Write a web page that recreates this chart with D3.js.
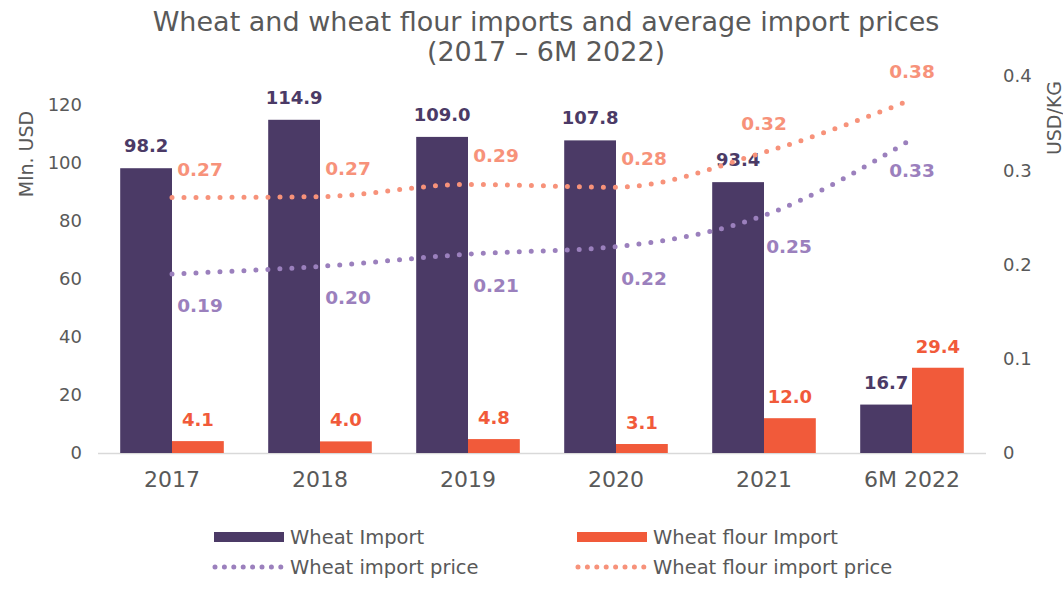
<!DOCTYPE html>
<html>
<head>
<meta charset="utf-8">
<script src="https://cdn.jsdelivr.net/npm/d3@7"></script>
<style>
  body { margin: 0; background: #fff; }
  text { font-family: "DejaVu Sans", sans-serif; }
</style>
</head>
<body>
<svg id="chart" width="1063" height="593"></svg>
<script>
var years = ["2017", "2018", "2019", "2020", "2021", "6M 2022"];
var wheatImport = [98.2, 114.9, 109.0, 107.8, 93.4, 16.7];
var flourImport = [4.1, 4.0, 4.8, 3.1, 12.0, 29.4];
var wheatPrice = [0.19, 0.198, 0.211, 0.219, 0.252, 0.333];
var flourPrice = [0.271, 0.272, 0.285, 0.282, 0.319, 0.375];
var wheatPriceLabels = ["0.19", "0.20", "0.21", "0.22", "0.25", "0.33"];
var flourPriceLabels = ["0.27", "0.27", "0.29", "0.28", "0.32", "0.38"];
var leftTicks = [0, 20, 40, 60, 80, 100, 120];
var rightTicks = [0, 0.1, 0.2, 0.3, 0.4];

var cWheat = "#4b3a66", cFlour = "#f15a3a", cWheatP = "#9b80bd", cFlourP = "#f7927a";
var grey = "#595959";

var svg = d3.select("#chart");

var x = d3.scaleBand().domain(years).range([98, 986]).paddingInner(0.3).paddingOuter(0.15);
var sub = d3.scaleBand().domain(["w", "f"]).range([0, x.bandwidth()]);
var y = d3.scaleLinear().domain([0, 130]).range([453, 76]);
var y2 = d3.scaleLinear().domain([0, 0.4]).range([453, 76]);
var cx = function(i) { return x(years[i]) + x.bandwidth() / 2; };

// title
svg.append("text").attr("x", 546).attr("y", 31).attr("text-anchor", "middle")
    .style("font-size", "27px").attr("fill", grey)
    .text("Wheat and wheat flour imports and average import prices");
svg.append("text").attr("x", 546).attr("y", 61).attr("text-anchor", "middle")
    .style("font-size", "27px").attr("fill", grey)
    .text("(2017 – 6M 2022)");

// axes
var yAxis = svg.append("g").attr("transform", "translate(82,0)")
    .call(d3.axisLeft(y).tickValues(leftTicks).tickSize(0).tickPadding(0));
var yAxis2 = svg.append("g").attr("transform", "translate(1003,0)")
    .call(d3.axisRight(y2).tickValues(rightTicks).tickSize(0).tickPadding(0)
        .tickFormat(function(d) { return d === 0 ? "0" : d3.format(".1f")(d); }));
var xAxis = svg.append("g").attr("transform", "translate(0,453)")
    .call(d3.axisBottom(x).tickSize(0));
[yAxis, yAxis2, xAxis].forEach(function(a) {
    a.select(".domain").remove();
    a.selectAll("text").style("font-size", "18px").attr("fill", grey)
        .style("font-family", "DejaVu Sans, sans-serif");
});
xAxis.selectAll("text").style("font-size", "22px").attr("y", 34).attr("dy", 0);

svg.append("line").attr("x1", 98).attr("x2", 986).attr("y1", 453.5).attr("y2", 453.5)
    .attr("stroke", "#d9d9d9").attr("stroke-width", 1.5);

svg.append("text").attr("transform", "translate(33,154) rotate(-90)")
    .attr("text-anchor", "middle").style("font-size", "19px").attr("fill", grey).text("Mln. USD");
svg.append("text").attr("transform", "translate(1061,118) rotate(-90)")
    .attr("text-anchor", "middle").style("font-size", "19px").attr("fill", grey).text("USD/KG");

// bars
var bars = svg.append("g");
bars.selectAll(".w").data(wheatImport).enter().append("rect")
    .attr("x", function(d, i) { return x(years[i]) + sub("w"); })
    .attr("width", sub.bandwidth())
    .attr("y", function(d) { return y(d); })
    .attr("height", function(d) { return y(0) - y(d); })
    .attr("fill", cWheat);
bars.selectAll(".f").data(flourImport).enter().append("rect")
    .attr("x", function(d, i) { return x(years[i]) + sub("f"); })
    .attr("width", sub.bandwidth())
    .attr("y", function(d) { return y(d); })
    .attr("height", function(d) { return y(0) - y(d); })
    .attr("fill", cFlour);

bars.selectAll(".wl").data(wheatImport).enter().append("text")
    .attr("x", function(d, i) { return x(years[i]) + sub("w") + sub.bandwidth() / 2; })
    .attr("y", function(d) { return y(d) - 16; })
    .attr("text-anchor", "middle").style("font-size", "18px").style("font-weight", "bold")
    .attr("fill", cWheat).text(function(d) { return d.toFixed(1); });
bars.selectAll(".fl").data(flourImport).enter().append("text")
    .attr("x", function(d, i) { return x(years[i]) + sub("f") + sub.bandwidth() / 2; })
    .attr("y", function(d) { return y(d) - 15; })
    .attr("text-anchor", "middle").style("font-size", "18px").style("font-weight", "bold")
    .attr("fill", cFlour).text(function(d) { return d.toFixed(1); });

// price lines
var line = d3.line()
    .x(function(d, i) { return cx(i); })
    .y(function(d) { return y2(d); })
    .curve(d3.curveMonotoneX);

[[wheatPrice, cWheatP], [flourPrice, cFlourP]].forEach(function(s) {
    svg.append("path").datum(s[0]).attr("d", line)
        .attr("fill", "none").attr("stroke", s[1]).attr("stroke-width", 5)
        .attr("stroke-linecap", "round").attr("stroke-dasharray", "0,12");
});

// price labels: most sit right of the point, a few centred
var flourShift = [28, 28, 28, 28, 0, 0];
var wheatShift = [28, 28, 28, 28, 25, 0];
svg.selectAll(".wpl").data(wheatPrice).enter().append("text")
    .attr("x", function(d, i) { return cx(i) + wheatShift[i]; })
    .attr("y", function(d) { return y2(d) + 38; })
    .attr("text-anchor", "middle").style("font-size", "18.5px").style("font-weight", "bold")
    .attr("fill", cWheatP).text(function(d, i) { return wheatPriceLabels[i]; });
svg.selectAll(".fpl").data(flourPrice).enter().append("text")
    .attr("x", function(d, i) { return cx(i) + flourShift[i]; })
    .attr("y", function(d) { return y2(d) - 22; })
    .attr("text-anchor", "middle").style("font-size", "18.5px").style("font-weight", "bold")
    .attr("fill", cFlourP).text(function(d, i) { return flourPriceLabels[i]; });

// legend
var legend = [
    { name: "Wheat Import", color: cWheat, bar: true, x: 214, y: 537 },
    { name: "Wheat flour Import", color: cFlour, bar: true, x: 577, y: 537 },
    { name: "Wheat import price", color: cWheatP, bar: false, x: 214, y: 567 },
    { name: "Wheat flour import price", color: cFlourP, bar: false, x: 577, y: 567 }
];
var lg = svg.append("g").selectAll("g").data(legend).enter().append("g")
    .attr("transform", function(d) { return "translate(" + d.x + "," + d.y + ")"; });
lg.filter(function(d) { return d.bar; }).append("rect")
    .attr("x", 0).attr("y", -5).attr("width", 70).attr("height", 10)
    .attr("fill", function(d) { return d.color; });
lg.filter(function(d) { return !d.bar; }).append("line")
    .attr("x1", 1).attr("x2", 70).attr("y1", 0).attr("y2", 0)
    .attr("stroke", function(d) { return d.color; }).attr("stroke-width", 5)
    .attr("stroke-linecap", "round").attr("stroke-dasharray", "0,9.4");
lg.append("text").attr("x", 76).attr("y", 0).attr("dy", "0.35em")
    .style("font-size", "19.5px").attr("fill", grey).text(function(d) { return d.name; });
</script>
</body>
</html>
